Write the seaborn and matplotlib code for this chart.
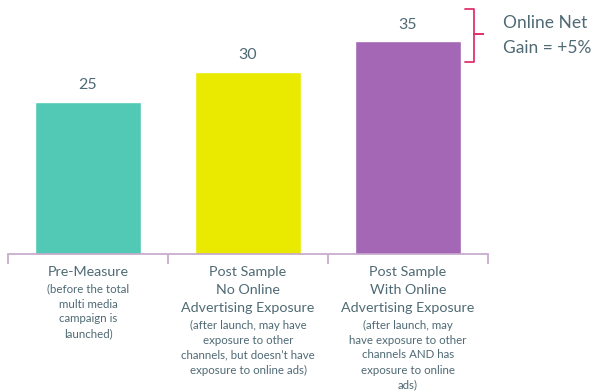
import matplotlib
matplotlib.use("Agg")
import matplotlib.pyplot as plt
import matplotlib.transforms as mtransforms
import seaborn as sns
import pandas as pd

categories = ["Pre-Measure", "Post Sample No Online", "Post Sample With Online"]
values = [25, 30, 35]
colors = ["#52C9B5", "#EAEA00", "#A367B5"]
main_lines = [["Pre-Measure"],
              ["Post Sample", "No Online", "Advertising Exposure"],
              ["Post Sample", "With Online", "Advertising Exposure"]]
sub_lines = [["(before the total", "multi media", "campaign is", "launched)"],
             ["(after launch, may have", "exposure to other", "channels, but doesn\u2019t have", "exposure to online ads)"],
             ["(after launch, may", "have exposure to other", "channels AND has", "exposure to online", "ads)"]]
note_lines = ["Online Net", "Gain = +5%"]

W, H = 595, 392
TXT = "#4f6a75"
AX = "#c4a6ca"

sns.set_theme(style="white")
plt.rcParams['font.family'] = ['Lato', 'DejaVu Sans']

fig = plt.figure(figsize=(W / 100, H / 100), dpi=100)
ymax = 40
left_px, right_px, base_px = 8, 488, 254
top_px = base_px - ymax * 6.08
ax = fig.add_axes([left_px / W, 1 - base_px / H, (right_px - left_px) / W, (base_px - top_px) / H])

df = pd.DataFrame({"cat": categories, "val": values})
sns.barplot(data=df, x="cat", y="val", hue="cat", palette=colors, width=0.66,
            legend=False, ax=ax, saturation=1)
ax.set_xlim(-0.5, 2.5)
ax.set_ylim(0, ymax)
ax.set_xlabel("")
ax.set_ylabel("")
ax.set_yticks([])
ax.set_xticks([-0.5, 0.5, 1.5, 2.5])
ax.set_xticklabels([])
ax.tick_params(axis="x", direction="out", length=7, width=1.2, color=AX, bottom=True)
for s in ["left", "top", "right"]:
    ax.spines[s].set_visible(False)
ax.spines["bottom"].set_color(AX)
ax.spines["bottom"].set_linewidth(1.2)

for p, v in zip(ax.patches, values):
    ax.annotate(f"{v}", (p.get_x() + p.get_width() / 2, p.get_height()),
                xytext=(0, 12), textcoords="offset points", ha="center", va="center",
                fontsize=11.5, color=TXT)

trans = mtransforms.blended_transform_factory(ax.transData, fig.transFigure)
for i in range(3):
    y = 272
    for ln in main_lines[i]:
        ax.text(i, 1 - y / H, ln, transform=trans, ha="center", va="center",
                fontsize=10.3, color=TXT)
        y += 18
    y += -1
    for ln in sub_lines[i]:
        ax.text(i, 1 - y / H, ln, transform=trans, ha="center", va="center",
                fontsize=8.3, color=TXT)
        y += 15

# bracket
bx = [465, 474, 474, 483, 474, 474, 465]
by = [9, 9, 34, 34, 34, 62, 62]
fig.add_artist(plt.Line2D([x / W for x in bx], [1 - y / H for y in by],
                          transform=fig.transFigure, color="#e0336a", lw=1.3))
for j, ln in enumerate(note_lines):
    fig.text(503 / W, 1 - (23 + 25 * j) / H, ln, ha="left", va="center",
             fontsize=12.5, color=TXT)

fig.savefig("out.png", dpi=100)
